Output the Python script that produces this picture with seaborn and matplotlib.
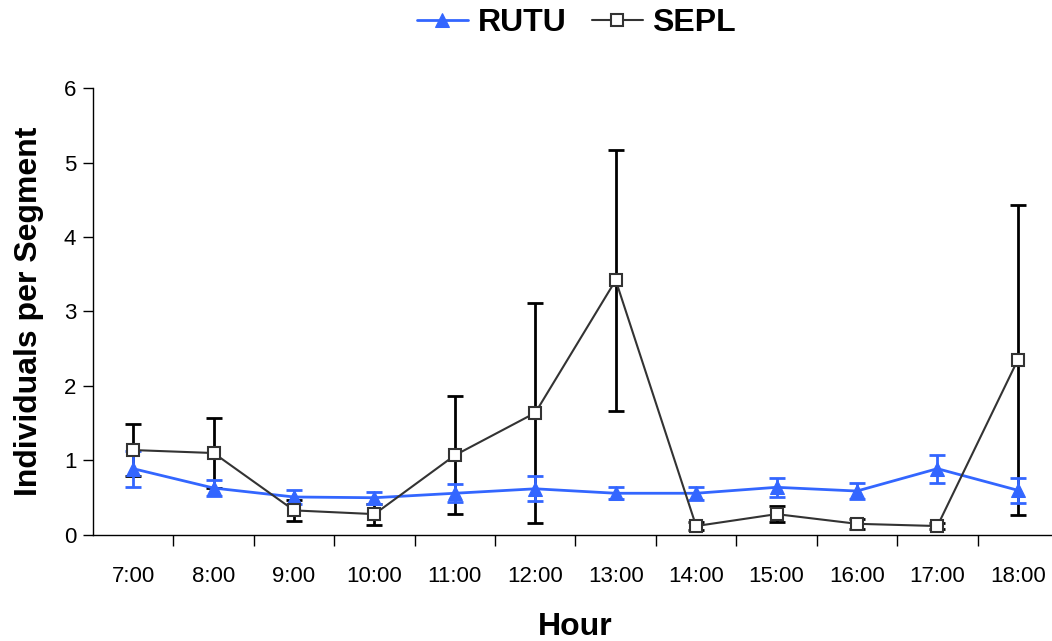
import matplotlib
matplotlib.use("Agg")
import matplotlib.pyplot as plt
import seaborn as sns
import pandas as pd

hours = ["7:00", "8:00", "9:00", "10:00", "11:00", "12:00",
         "13:00", "14:00", "15:00", "16:00", "17:00", "18:00"]
rutu_mean = [0.89, 0.63, 0.51, 0.50, 0.56, 0.62, 0.56, 0.56, 0.64, 0.59, 0.89, 0.60]
rutu_err = [0.24, 0.11, 0.09, 0.08, 0.12, 0.17, 0.08, 0.09, 0.13, 0.11, 0.19, 0.17]
sepl_mean = [1.14, 1.10, 0.33, 0.28, 1.07, 1.64, 3.42, 0.12, 0.28, 0.15, 0.12, 2.35]
sepl_err = [0.35, 0.47, 0.14, 0.14, 0.79, 1.48, 1.75, 0.05, 0.11, 0.07, 0.04, 2.08]

BLUE = "#3366FF"
GREY = "#333333"

sns.set_style("white")
plt.rcParams["font.family"] = ["Liberation Sans", "DejaVu Sans"]
plt.rcParams["text.color"] = "black"
plt.rcParams["axes.labelcolor"] = "black"
plt.rcParams["xtick.color"] = "black"
plt.rcParams["ytick.color"] = "black"

df = pd.DataFrame({
    "pos": list(range(len(hours))) * 2,
    "value": rutu_mean + sepl_mean,
    "species": ["RUTU"] * len(hours) + ["SEPL"] * len(hours),
})

fig = plt.figure(figsize=(10.52, 6.41), dpi=100)
ax = fig.add_axes([0.0884, 0.1654, 0.9173, 0.6973])

pos = list(range(len(hours)))

# error bars first, then the lines/markers on top
ax.errorbar(pos, sepl_mean, yerr=sepl_err, fmt="none", ecolor="black",
            elinewidth=2, capsize=6, capthick=2, zorder=2)
ax.errorbar(pos, rutu_mean, yerr=rutu_err, fmt="none", ecolor=BLUE,
            elinewidth=2, capsize=6, capthick=2, zorder=2)

sns.lineplot(data=df[df["species"] == "RUTU"], x="pos", y="value", ax=ax,
             color=BLUE, marker="^", markersize=10, markeredgecolor=BLUE,
             linewidth=2, label="RUTU", zorder=3)
sns.lineplot(data=df[df["species"] == "SEPL"], x="pos", y="value", ax=ax,
             color=GREY, marker="s", markersize=8, markerfacecolor="white",
             markeredgecolor=GREY, markeredgewidth=1.5,
             linewidth=1.5, label="SEPL", zorder=4)

ax.set_xlim(-0.5, len(hours) - 0.5)
ax.set_ylim(0, 6)
ax.set_yticks(range(0, 7))
ax.set_xticks(pos)
ax.set_xticklabels(hours)
ax.set_xticks([p + 0.5 for p in pos], minor=True)
ax.tick_params(axis="x", which="major", length=0, labelsize=16, pad=22)
ax.tick_params(axis="x", which="minor", length=8, width=1, color="black",
               direction="out", bottom=True)
ax.tick_params(axis="y", length=7, width=1, color="black", labelsize=16,
               direction="out", left=True, pad=5)

for s in ["top", "right"]:
    ax.spines[s].set_visible(False)
for s in ["left", "bottom"]:
    ax.spines[s].set_color("black")
    ax.spines[s].set_linewidth(1)

ax.set_xlabel("Hour", fontsize=23, fontweight="bold", labelpad=18)
ax.set_ylabel("Individuals per Segment", fontsize=23, fontweight="bold",
              labelpad=14)

ax.legend_.remove()
handles, labels = ax.get_legend_handles_labels()
fig.legend(handles, labels, loc="center", bbox_to_anchor=(0.548, 0.964),
           ncol=2, frameon=False, prop={"size": 23, "weight": "bold"},
           handlelength=1.6, handletextpad=0.3, columnspacing=0.8)

fig.savefig("out.png", dpi=100)
